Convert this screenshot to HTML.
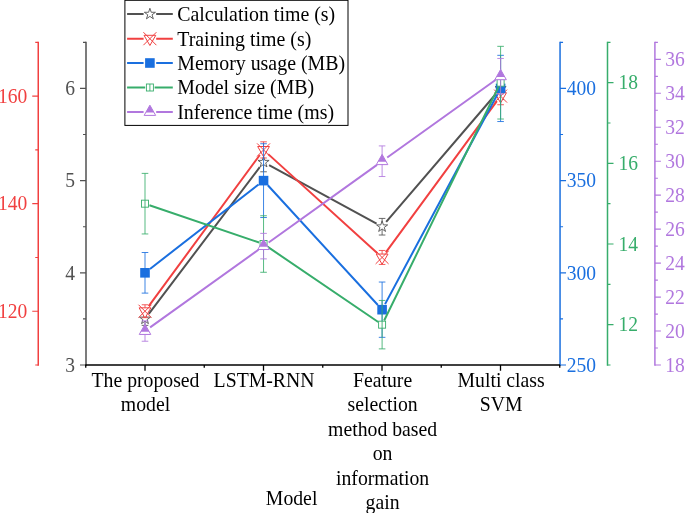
<!DOCTYPE html>
<html><head><meta charset="utf-8"><title>Model comparison chart</title>
<style>html,body{margin:0;padding:0;background:#fff}svg{display:block;will-change:transform}text{font-family:"Liberation Serif",serif;font-size:20.8px}</style>
</head><body>
<svg width="685" height="513" viewBox="0 0 685 513">
<rect width="685" height="513" fill="#fff"/>
<path d="M86 41.77 V365.75" fill="none" stroke="#515151" stroke-width="1.5"/>
<path d="M86 365 h-6 M86 318.91 h-3 M86 272.81 h-6 M86 226.72 h-3 M86 180.63 h-6 M86 134.54 h-3 M86 88.44 h-6 M86 42.35 h-3" fill="none" stroke="#515151" stroke-width="1.15"/>
<path d="M38.25 41.77 V365.75" fill="none" stroke="#F14040" stroke-width="1.5"/>
<path d="M38.25 365 h-3 M38.25 311.23 h-6 M38.25 257.45 h-3 M38.25 203.68 h-6 M38.25 149.9 h-3 M38.25 96.12 h-6 M38.25 42.35 h-3" fill="none" stroke="#F14040" stroke-width="1.15"/>
<path d="M560.05 41.77 V365.75" fill="none" stroke="#1A6FDF" stroke-width="1.5"/>
<path d="M560.05 365 h6 M560.05 318.91 h3 M560.05 272.81 h6 M560.05 226.72 h3 M560.05 180.63 h6 M560.05 134.54 h3 M560.05 88.44 h6 M560.05 42.35 h3" fill="none" stroke="#1A6FDF" stroke-width="1.15"/>
<path d="M607.5 41.77 V365.75" fill="none" stroke="#37AD6B" stroke-width="1.5"/>
<path d="M607.5 365 h3 M607.5 324.67 h6 M607.5 284.34 h3 M607.5 244.01 h6 M607.5 203.68 h3 M607.5 163.34 h6 M607.5 123.01 h3 M607.5 82.68 h6 M607.5 42.35 h3" fill="none" stroke="#37AD6B" stroke-width="1.15"/>
<path d="M654.9 41.77 V365.75" fill="none" stroke="#B177DE" stroke-width="1.5"/>
<path d="M654.9 365 h6 M654.9 348.02 h3 M654.9 331.04 h6 M654.9 314.06 h3 M654.9 297.07 h6 M654.9 280.09 h3 M654.9 263.11 h6 M654.9 246.13 h3 M654.9 229.15 h6 M654.9 212.17 h3 M654.9 195.18 h6 M654.9 178.2 h3 M654.9 161.22 h6 M654.9 144.24 h3 M654.9 127.26 h6 M654.9 110.28 h3 M654.9 93.29 h6 M654.9 76.31 h3 M654.9 59.33 h6 M654.9 42.35 h3" fill="none" stroke="#B177DE" stroke-width="1.15"/>
<path d="M85.25 365 H560.05" fill="none" stroke="#000" stroke-width="1.5"/>
<path d="M85.75 365 v2.8 M145 365 v5.8 M204.25 365 v2.8 M263.5 365 v5.8 M322.75 365 v2.8 M382 365 v5.8 M441.25 365 v2.8 M500.5 365 v5.8 M559.75 365 v2.8" fill="none" stroke="#000" stroke-width="1.3"/>
<text transform="translate(75.1 371.8) scale(0.94 1)" fill="#515151" text-anchor="end">3</text>
<text transform="translate(75.1 279.61) scale(0.94 1)" fill="#515151" text-anchor="end">4</text>
<text transform="translate(75.1 187.43) scale(0.94 1)" fill="#515151" text-anchor="end">5</text>
<text transform="translate(75.1 95.24) scale(0.94 1)" fill="#515151" text-anchor="end">6</text>
<text transform="translate(27.4 318.03) scale(0.94 1)" fill="#F14040" text-anchor="end">120</text>
<text transform="translate(27.4 210.48) scale(0.94 1)" fill="#F14040" text-anchor="end">140</text>
<text transform="translate(27.4 102.92) scale(0.94 1)" fill="#F14040" text-anchor="end">160</text>
<text transform="translate(566.7 371.8) scale(0.94 1)" fill="#1A6FDF" text-anchor="start">250</text>
<text transform="translate(566.7 279.61) scale(0.94 1)" fill="#1A6FDF" text-anchor="start">300</text>
<text transform="translate(566.7 187.43) scale(0.94 1)" fill="#1A6FDF" text-anchor="start">350</text>
<text transform="translate(566.7 95.24) scale(0.94 1)" fill="#1A6FDF" text-anchor="start">400</text>
<text transform="translate(618.6 331.47) scale(0.94 1)" fill="#37AD6B" text-anchor="start">12</text>
<text transform="translate(618.6 250.81) scale(0.94 1)" fill="#37AD6B" text-anchor="start">14</text>
<text transform="translate(618.6 170.14) scale(0.94 1)" fill="#37AD6B" text-anchor="start">16</text>
<text transform="translate(618.6 89.48) scale(0.94 1)" fill="#37AD6B" text-anchor="start">18</text>
<text transform="translate(665.3 371.8) scale(0.94 1)" fill="#B177DE" text-anchor="start">18</text>
<text transform="translate(665.3 337.84) scale(0.94 1)" fill="#B177DE" text-anchor="start">20</text>
<text transform="translate(665.3 303.87) scale(0.94 1)" fill="#B177DE" text-anchor="start">22</text>
<text transform="translate(665.3 269.91) scale(0.94 1)" fill="#B177DE" text-anchor="start">24</text>
<text transform="translate(665.3 235.95) scale(0.94 1)" fill="#B177DE" text-anchor="start">26</text>
<text transform="translate(665.3 201.98) scale(0.94 1)" fill="#B177DE" text-anchor="start">28</text>
<text transform="translate(665.3 168.02) scale(0.94 1)" fill="#B177DE" text-anchor="start">30</text>
<text transform="translate(665.3 134.06) scale(0.94 1)" fill="#B177DE" text-anchor="start">32</text>
<text transform="translate(665.3 100.09) scale(0.94 1)" fill="#B177DE" text-anchor="start">34</text>
<text transform="translate(665.3 66.13) scale(0.94 1)" fill="#B177DE" text-anchor="start">36</text>
<text transform="translate(145.5 386.8) scale(0.95 1)" fill="#000" text-anchor="middle">The proposed</text>
<text transform="translate(145.5 411.25) scale(0.95 1)" fill="#000" text-anchor="middle">model</text>
<text transform="translate(264.05 386.8) scale(0.95 1)" fill="#000" text-anchor="middle">LSTM-RNN</text>
<text transform="translate(382.6 386.8) scale(0.95 1)" fill="#000" text-anchor="middle">Feature</text>
<text transform="translate(382.6 411.25) scale(0.95 1)" fill="#000" text-anchor="middle">selection</text>
<text transform="translate(382.6 435.7) scale(0.95 1)" fill="#000" text-anchor="middle">method based</text>
<text transform="translate(382.6 460.15) scale(0.95 1)" fill="#000" text-anchor="middle">on</text>
<text transform="translate(382.6 484.6) scale(0.95 1)" fill="#000" text-anchor="middle">information</text>
<text transform="translate(382.6 509.05) scale(0.95 1)" fill="#000" text-anchor="middle">gain</text>
<text transform="translate(501.1 386.8) scale(0.95 1)" fill="#000" text-anchor="middle">Multi class</text>
<text transform="translate(501.1 411.25) scale(0.95 1)" fill="#000" text-anchor="middle">SVM</text>
<text transform="translate(291.6 504.6) scale(0.95 1)" fill="#000" text-anchor="middle">Model</text>
<g>
<path d="M145 312.45 V325.37 M141.7 312.45 h6.6 M141.7 325.37 h6.6 M263.55 152.59 V171.79 M260.25 152.59 h6.6 M260.25 171.79 h6.6 M382.1 218.42 V235.03 M378.8 218.42 h6.6 M378.8 235.03 h6.6 M500.6 77.37 V99.52 M497.3 77.37 h6.6 M497.3 99.52 h6.6" fill="none" stroke="#515151" stroke-width="0.85"/>
<path d="M148.8 313.88 L259.75 167.22 M269.08 165.2 L376.57 223.71 M386.2 221.94 L496.5 93.23" fill="none" stroke="#515151" stroke-width="2"/>
<polygon points="145,313.06 146.32,317.09 150.56,317.1 147.14,319.6 148.44,323.64 145,321.16 141.56,323.64 142.86,319.6 139.44,317.1 143.68,317.09" fill="#fff" stroke="#515151" stroke-width="0.9" stroke-linejoin="miter"/>
<polygon points="263.55,156.34 264.87,160.37 269.11,160.38 265.69,162.89 266.99,166.92 263.55,164.44 260.11,166.92 261.41,162.89 257.99,160.38 262.23,160.37" fill="#fff" stroke="#515151" stroke-width="0.9" stroke-linejoin="miter"/>
<polygon points="382.1,220.87 383.42,224.9 387.66,224.91 384.24,227.42 385.54,231.45 382.1,228.97 378.66,231.45 379.96,227.42 376.54,224.91 380.78,224.9" fill="#fff" stroke="#515151" stroke-width="0.9" stroke-linejoin="miter"/>
<polygon points="500.6,82.59 501.92,86.62 506.16,86.64 502.74,89.14 504.04,93.18 500.6,90.69 497.16,93.18 498.46,89.14 495.04,86.64 499.28,86.62" fill="#fff" stroke="#515151" stroke-width="0.9" stroke-linejoin="miter"/>
</g>
<g>
<path d="M145 304.77 V317.68 M141.7 304.77 h6.6 M141.7 317.68 h6.6 M263.55 141.83 V157.97 M260.25 141.83 h6.6 M260.25 157.97 h6.6 M382.1 250.45 V264.45 M378.8 250.45 h6.6 M378.8 264.45 h6.6 M500.6 87.51 V104.74 M497.3 87.51 h6.6 M497.3 104.74 h6.6" fill="none" stroke="#F14040" stroke-width="0.85"/>
<path d="M148.73 306.15 L259.82 154.98 M268.22 154.13 L377.43 253.22 M385.83 252.37 L496.87 101.2" fill="none" stroke="#F14040" stroke-width="2"/>
<path d="M139.11 307.83 L150.89 307.83 L145 318.03 Z" fill="#fff" stroke="#F14040" stroke-width="1"/><path d="M138.5 304.73 L151.5 317.73 M138.5 317.73 L151.5 304.73" fill="none" stroke="#F14040" stroke-width="1"/>
<path d="M257.66 146.5 L269.44 146.5 L263.55 156.7 Z" fill="#fff" stroke="#F14040" stroke-width="1"/><path d="M257.05 143.4 L270.05 156.4 M257.05 156.4 L270.05 143.4" fill="none" stroke="#F14040" stroke-width="1"/>
<path d="M376.21 254.05 L387.99 254.05 L382.1 264.25 Z" fill="#fff" stroke="#F14040" stroke-width="1"/><path d="M375.6 250.95 L388.6 263.95 M375.6 263.95 L388.6 250.95" fill="none" stroke="#F14040" stroke-width="1"/>
<path d="M494.71 92.72 L506.49 92.72 L500.6 102.92 Z" fill="#fff" stroke="#F14040" stroke-width="1"/><path d="M494.1 89.62 L507.1 102.62 M494.1 102.62 L507.1 89.62" fill="none" stroke="#F14040" stroke-width="1"/>
</g>
<g>
<path d="M145 252.51 V293.11 M141.7 252.51 h6.6 M141.7 293.11 h6.6 M263.55 143.73 V217.53 M260.25 143.73 h6.6 M260.25 217.53 h6.6 M382.1 282.04 V337.34 M378.8 282.04 h6.6 M378.8 337.34 h6.6 M500.6 55.34 V121.54 M497.3 55.34 h6.6 M497.3 121.54 h6.6" fill="none" stroke="#1A6FDF" stroke-width="0.85"/>
<path d="M149.97 268.95 L258.58 184.5 M267.81 185.27 L377.84 305.05 M385.07 304.13 L497.63 94" fill="none" stroke="#1A6FDF" stroke-width="2"/>
<rect x="140.2" y="268.01" width="9.6" height="9.6" fill="#1A6FDF"/>
<rect x="258.75" y="175.83" width="9.6" height="9.6" fill="#1A6FDF"/>
<rect x="377.3" y="304.89" width="9.6" height="9.6" fill="#1A6FDF"/>
<rect x="495.8" y="83.64" width="9.6" height="9.6" fill="#1A6FDF"/>
</g>
<g>
<path d="M145 173.39 V233.96 M141.7 173.39 h6.6 M141.7 233.96 h6.6 M263.55 215.74 V272.27 M260.25 215.74 h6.6 M260.25 272.27 h6.6 M382.1 300.44 V348.89 M378.8 300.44 h6.6 M378.8 348.89 h6.6 M500.6 46.34 V119.02 M497.3 46.34 h6.6 M497.3 119.02 h6.6" fill="none" stroke="#37AD6B" stroke-width="0.85"/>
<path d="M149.45 205.19 L259.1 242.49 M267.44 246.65 L378.21 322.02 M384.17 320.45 L498.53 86.9" fill="none" stroke="#37AD6B" stroke-width="2"/>
<rect x="141.5" y="200.18" width="7" height="7" fill="#fff" stroke="#37AD6B" stroke-width="0.9"/><path d="M145 200.18 v7" stroke="#37AD6B" stroke-width="0.9" fill="none"/>
<rect x="260.05" y="240.51" width="7" height="7" fill="#fff" stroke="#37AD6B" stroke-width="0.9"/><path d="M263.55 240.51 v7" stroke="#37AD6B" stroke-width="0.9" fill="none"/>
<rect x="378.6" y="321.17" width="7" height="7" fill="#fff" stroke="#37AD6B" stroke-width="0.9"/><path d="M382.1 321.17 v7" stroke="#37AD6B" stroke-width="0.9" fill="none"/>
<rect x="497.1" y="79.18" width="7" height="7" fill="#fff" stroke="#37AD6B" stroke-width="0.9"/><path d="M500.6 79.18 v7" stroke="#37AD6B" stroke-width="0.9" fill="none"/>
</g>
<g>
<path d="M145 320.84 V341.24 M141.7 320.84 h6.6 M141.7 341.24 h6.6 M263.55 233.38 V258.88 M260.25 233.38 h6.6 M260.25 258.88 h6.6 M382.1 145.92 V176.52 M378.8 145.92 h6.6 M378.8 176.52 h6.6 M500.6 58.46 V94.16 M497.3 58.46 h6.6 M497.3 94.16 h6.6" fill="none" stroke="#B177DE" stroke-width="0.85"/>
<path d="M150.12 327.37 L258.43 249.8 M268.67 242.46 L376.98 164.89 M387.22 157.55 L495.48 79.98" fill="none" stroke="#B177DE" stroke-width="2"/>
<path d="M145 324.24 L150.75 334.44 L139.25 334.44 Z" fill="#fff" stroke="#B177DE" stroke-width="1"/><path d="M145 324.24 L149.17 331.64 L140.83 331.64 Z" fill="#B177DE"/>
<path d="M263.55 239.33 L269.3 249.53 L257.8 249.53 Z" fill="#fff" stroke="#B177DE" stroke-width="1"/><path d="M263.55 239.33 L267.72 246.73 L259.38 246.73 Z" fill="#B177DE"/>
<path d="M382.1 154.42 L387.85 164.62 L376.35 164.62 Z" fill="#fff" stroke="#B177DE" stroke-width="1"/><path d="M382.1 154.42 L386.27 161.82 L377.93 161.82 Z" fill="#B177DE"/>
<path d="M500.6 69.51 L506.35 79.71 L494.85 79.71 Z" fill="#fff" stroke="#B177DE" stroke-width="1"/><path d="M500.6 69.51 L504.77 76.91 L496.43 76.91 Z" fill="#B177DE"/>
</g>
<rect x="124.9" y="0.3" width="223.1" height="125.1" fill="#fff" stroke="#000" stroke-width="1"/>
<path d="M127.1 14.1 H143.6 M156.2 14.1 H172.8" fill="none" stroke="#515151" stroke-width="2"/>
<polygon points="149.9,8.25 151.22,12.28 155.46,12.29 152.04,14.8 153.34,18.83 149.9,16.35 146.46,18.83 147.76,14.8 144.34,12.29 148.58,12.28" fill="#fff" stroke="#515151" stroke-width="0.9" stroke-linejoin="miter"/>
<text transform="translate(177.2 21.1) scale(0.957 1)" fill="#000" text-anchor="start">Calculation time (s)</text>
<path d="M127.1 38.7 H143.6 M156.2 38.7 H172.8" fill="none" stroke="#F14040" stroke-width="2"/>
<path d="M144.01 35.3 L155.79 35.3 L149.9 45.5 Z" fill="#fff" stroke="#F14040" stroke-width="1"/><path d="M143.4 32.2 L156.4 45.2 M143.4 45.2 L156.4 32.2" fill="none" stroke="#F14040" stroke-width="1"/>
<text transform="translate(177.2 45.55) scale(0.957 1)" fill="#000" text-anchor="start">Training time (s)</text>
<path d="M127.1 63 H143.6 M156.2 63 H172.8" fill="none" stroke="#1A6FDF" stroke-width="2"/>
<rect x="145.1" y="58.2" width="9.6" height="9.6" fill="#1A6FDF"/>
<text transform="translate(177.2 70) scale(0.957 1)" fill="#000" text-anchor="start">Memory usage (MB)</text>
<path d="M127.1 87.5 H145.2 M154.6 87.5 H172.8" fill="none" stroke="#37AD6B" stroke-width="2"/>
<rect x="146.4" y="84" width="7" height="7" fill="#fff" stroke="#37AD6B" stroke-width="0.9"/><path d="M149.9 84 v7" stroke="#37AD6B" stroke-width="0.9" fill="none"/>
<text transform="translate(177.2 94.45) scale(0.957 1)" fill="#000" text-anchor="start">Model size (MB)</text>
<path d="M127.1 112 H143.6 M156.2 112 H172.8" fill="none" stroke="#B177DE" stroke-width="2"/>
<path d="M149.9 105.2 L155.65 115.4 L144.15 115.4 Z" fill="#fff" stroke="#B177DE" stroke-width="1"/><path d="M149.9 105.2 L154.07 112.6 L145.73 112.6 Z" fill="#B177DE"/>
<text transform="translate(177.2 118.9) scale(0.957 1)" fill="#000" text-anchor="start">Inference time (ms)</text>
</svg></body></html>
